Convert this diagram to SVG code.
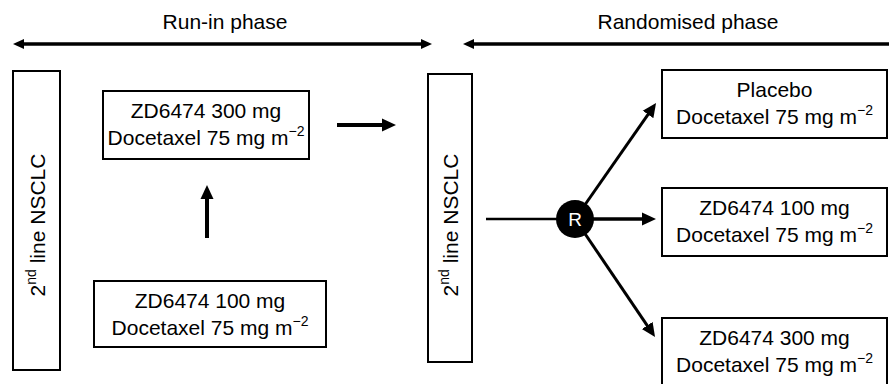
<svg xmlns="http://www.w3.org/2000/svg" width="889" height="384" viewBox="0 0 889 384">
<style>
text{font-family:"Liberation Sans",Arial,sans-serif;font-size:21px;fill:#000;text-anchor:middle}
.hdr{font-size:21px}
.sup{font-size:14px}
.box{fill:#fff;stroke:#000;stroke-width:2}
.ln{stroke:#000;fill:none}
</style>
<defs>
<marker id="ah" markerUnits="userSpaceOnUse" markerWidth="14" markerHeight="14" viewBox="0 0 14 14" refX="5" refY="7" orient="auto-start-reverse"><path d="M0,0.5 L14,7 L0,13.5 Z" fill="#000"/></marker>
<marker id="ahs" markerUnits="userSpaceOnUse" markerWidth="11" markerHeight="11" viewBox="0 0 11 11" refX="3" refY="5.5" orient="auto-start-reverse"><path d="M0,0.5 L11,5.5 L0,10.5 Z" fill="#000"/></marker>
</defs>

<g id="headers">
<text class="hdr" x="225" y="29">Run-in phase</text>
<text class="hdr" x="688" y="29">Randomised phase</text>
</g>

<g id="connectors">
<line class="ln" x1="21" y1="44" x2="424" y2="44" stroke-width="3.5" marker-start="url(#ahs)" marker-end="url(#ahs)"/>
<line class="ln" x1="471" y1="44" x2="892" y2="44" stroke-width="3.5" marker-start="url(#ahs)"/>
<line class="ln" x1="337" y1="125" x2="387" y2="125" stroke-width="4" marker-end="url(#ah)"/>
<line class="ln" x1="207" y1="238" x2="207" y2="194" stroke-width="4" marker-end="url(#ah)"/>
<line class="ln" x1="486" y1="219" x2="575" y2="219" stroke-width="2.5"/>
<line class="ln" x1="575" y1="219" x2="647" y2="219" stroke-width="3.5" marker-end="url(#ah)"/>
<line class="ln" x1="575" y1="219" x2="650.9" y2="110.4" stroke-width="3" marker-end="url(#ah)"/>
<line class="ln" x1="575" y1="219" x2="650" y2="329.6" stroke-width="3" marker-end="url(#ah)"/>
</g>

<g id="node-nsclc-1">
<rect class="box" x="13" y="71" width="47" height="299"/>
<text transform="translate(45,225) rotate(-90)">2<tspan class="sup" dy="-9">nd</tspan><tspan dy="9"> line NSCLC</tspan></text>
</g>

<g id="node-runin-300">
<rect class="box" x="103" y="91" width="206" height="68"/>
<text x="206" y="118">ZD6474 300 mg</text>
<text x="206" y="145">Docetaxel 75 mg m<tspan class="sup" dy="-9">−2</tspan></text>
</g>

<g id="node-runin-100">
<rect class="box" x="94" y="281" width="232" height="66"/>
<text x="210" y="308">ZD6474 100 mg</text>
<text x="210" y="335">Docetaxel 75 mg m<tspan class="sup" dy="-9">−2</tspan></text>
</g>

<g id="node-nsclc-2">
<rect class="box" x="428" y="74" width="44" height="288"/>
<text transform="translate(458,225) rotate(-90)">2<tspan class="sup" dy="-9">nd</tspan><tspan dy="9"> line NSCLC</tspan></text>
</g>

<g id="node-R">
<circle cx="575" cy="219" r="19" fill="#000"/>
<text x="575" y="226" style="fill:#fff;font-size:19px">R</text>
</g>

<g id="node-placebo">
<rect class="box" x="662" y="70" width="225" height="68"/>
<text x="774.5" y="97">Placebo</text>
<text x="774.5" y="124">Docetaxel 75 mg m<tspan class="sup" dy="-9">−2</tspan></text>
</g>

<g id="node-rand-100">
<rect class="box" x="662" y="188" width="225" height="68"/>
<text x="774.5" y="215">ZD6474 100 mg</text>
<text x="774.5" y="242">Docetaxel 75 mg m<tspan class="sup" dy="-9">−2</tspan></text>
</g>

<g id="node-rand-300">
<rect class="box" x="662" y="318" width="225" height="68"/>
<text x="774.5" y="345">ZD6474 300 mg</text>
<text x="774.5" y="372">Docetaxel 75 mg m<tspan class="sup" dy="-9">−2</tspan></text>
</g>
</svg>
